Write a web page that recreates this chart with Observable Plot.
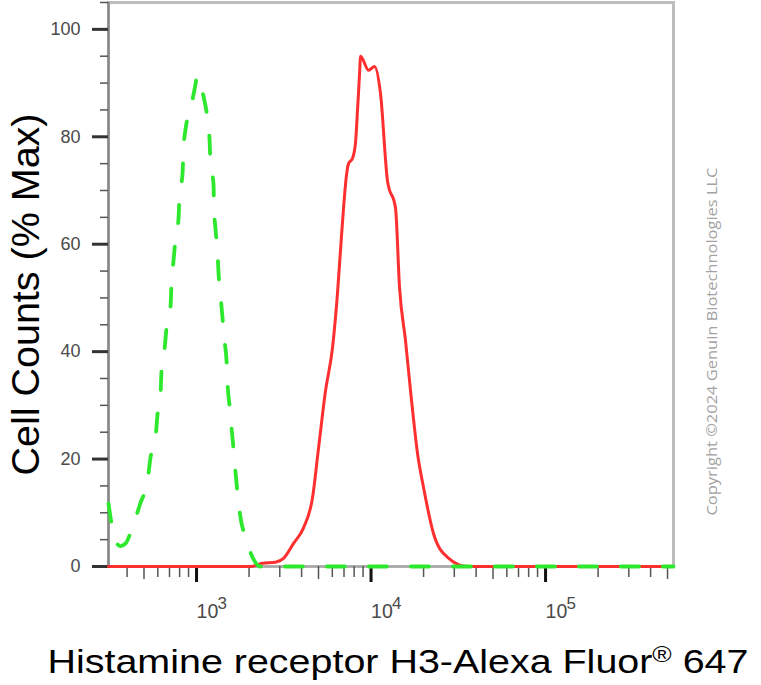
<!DOCTYPE html>
<html>
<head>
<meta charset="utf-8">
<script src="https://cdn.jsdelivr.net/npm/d3@7"></script>
<script src="https://cdn.jsdelivr.net/npm/@observablehq/plot@0.6"></script>
<style>
  html, body { margin: 0; padding: 0; background: #fff; }
  svg { display: block; }
</style>
</head>
<body>
<div id="chart"></div>
<script>
// ---- data ----
const xDomain = [313, 541000];
const yDomain = [0, 105];

// Red (solid) histogram: stained sample
const redX = [313, 2039, 2388, 2836, 3150, 3597, 4103, 4620, 5000, 5484, 6013, 6427, 6687, 6955, 7240, 7430, 7834, 8153, 8367, 8590, 8710, 9676, 10470, 11335, 12435, 13815, 14560, 15765, 16842, 18475, 19992, 22815, 27444, 35730, 541000];
const redY = [0, 0, 0.6, 0.8, 1.5, 4.3, 7.2, 12.8, 22, 32.7, 40.7, 51, 59, 66.7, 73, 75, 76, 79, 85, 91.6, 95, 92.4, 93.1, 88, 71.7, 66.7, 52, 42, 32.7, 21, 14.7, 6.1, 1.7, 0, 0];

// Green (dashed) histogram: control
const greenX = [313, 343, 367, 392, 436, 478, 524, 545, 582, 598, 622, 630, 656, 673, 710, 719, 738, 758, 789, 799, 831, 842, 865, 924, 974, 1013, 1097, 1156, 1187, 1203, 1251, 1260, 1285, 1319, 1337, 1373, 1409, 1447, 1486, 1506, 1546, 1587, 1629, 1673, 1718, 1787, 1909, 2094, 2327, 541000];
const greenY = [11.7, 4.8, 3.8, 4.3, 8, 11.9, 16, 20.3, 24, 28.4, 32.2, 36.4, 40.5, 44.4, 48.5, 52.8, 56.9, 61, 64.9, 69.3, 73, 77.7, 81.4, 85.1, 88.8, 91.3, 87.5, 83.3, 79.6, 74.9, 71.2, 66.7, 62.8, 58.4, 54.6, 50.4, 46.3, 42, 38.3, 34, 29.9, 25.8, 21.9, 17.5, 13.6, 9.1, 5.4, 1.7, 0, 0];

// ticks & labels
const yMajor = [0, 20, 40, 60, 80, 100];
const yMinor = [5, 10, 15, 25, 30, 35, 45, 50, 55, 65, 70, 75, 85, 90, 95, 105];
const xMajor = [1000, 10000, 100000];
const xMajorBase = ["10", "10", "10"];
const xMajorExp = ["3", "4", "5"];
const xMinor = [400, 600, 700, 800, 900, 2000, 3000, 4000, 6000, 7000, 8000, 9000, 20000, 30000, 40000, 60000, 70000, 80000, 90000, 200000, 300000, 400000];
const xMinorFive = [500, 5000, 50000, 500000];

const xTitle = "Histamine receptor H3-Alexa Fluor® 647";
const yTitle = "Cell Counts (% Max)";
const credit = "Copyright ©2024 Genuin Biotechnologies LLC";

const red = redX.map((x, i) => ({x, y: redY[i]}));
const green = greenX.map((x, i) => ({x, y: greenY[i]}));

const svg = Plot.plot({
  width: 761,
  height: 685,
  marginLeft: 108,
  marginRight: 88,
  marginTop: 2,
  marginBottom: 119,
  style: {fontFamily: "'Liberation Sans', Arial, sans-serif", background: "#fff"},
  x: {type: "log", domain: xDomain},
  y: {domain: yDomain},
  marks: [
    Plot.frame({stroke: "#bdbdbd", strokeWidth: 3}),
    Plot.ruleX([xDomain[0]], {stroke: "#8a8a8a", strokeWidth: 2.5}),
    Plot.ruleY([0], {stroke: "#a8a8a8", strokeWidth: 2}),
    // y ticks
    Plot.axisY({ticks: yMinor, tickSize: 8, strokeWidth: 1.5, stroke: "#555", tickFormat: () => "", label: null}),
    Plot.axisY({ticks: yMajor, tickSize: 16, strokeWidth: 3, stroke: "#333", tickFormat: () => "", label: null}),
    Plot.axisY({ticks: yMajor, tickSize: 0, tickPadding: 28, fontSize: 18, fill: "#4a4a4a", color: "#4a4a4a", label: null}),
    // x ticks
    Plot.axisX({ticks: xMinor, tickSize: 11, strokeWidth: 1.5, stroke: "#555", tickFormat: () => "", label: null}),
    Plot.axisX({ticks: xMinorFive, tickSize: 13, strokeWidth: 1.5, stroke: "#555", tickFormat: () => "", label: null}),
    Plot.axisX({ticks: xMajor, tickSize: 16, strokeWidth: 3, stroke: "#111", tickFormat: () => "", label: null}),
    Plot.text(xMajor, {x: d => d, text: (d, i) => xMajorBase[i], frameAnchor: "bottom", textAnchor: "start", lineAnchor: "bottom", dx: 0, dy: 51, fontSize: 19.5, fill: "#4a4a4a"}),
    Plot.text(xMajor, {x: d => d, text: (d, i) => xMajorExp[i], frameAnchor: "bottom", textAnchor: "start", lineAnchor: "bottom", dx: 21, dy: 42, fontSize: 17, fill: "#4a4a4a"}),
    // data
    Plot.line(red, {x: "x", y: "y", stroke: "#ff2f2f", strokeWidth: 3, strokeLinejoin: "round", curve: "monotone-x"}),
    Plot.line(green, {x: "x", y: "y", stroke: "#2ee82e", strokeWidth: 3.8, strokeDasharray: "18,24", strokeLinecap: "round", curve: "monotone-x"}),
    // titles
    Plot.text([yTitle], {frameAnchor: "left", dx: -70, dy: 10, rotate: -90, textAnchor: "middle", lineAnchor: "bottom", fontSize: 38, fill: "#000", className: "ytitle"}),
    Plot.text([xTitle], {frameAnchor: "bottom", dx: 7, dy: 106, textAnchor: "middle", lineAnchor: "bottom", fontSize: 33, fill: "#000", className: "xtitle"}),
    Plot.text([credit], {frameAnchor: "right", dx: 43, dy: 57, rotate: -90, textAnchor: "middle", lineAnchor: "bottom", fontSize: 14.5, fill: "#a3a3a3", fontFamily: "'Open Sans', sans-serif", className: "credit"})
  ]
});

const s = d3.select(svg);
s.select("g.ytitle text").attr("textLength", 362).attr("lengthAdjust", "spacingAndGlyphs");
s.select("g.credit text").attr("textLength", 348).attr("lengthAdjust", "spacingAndGlyphs");
const xt = s.select("g.xtitle text");
const parts = xTitle.split("®");
xt.text("");
xt.append("tspan").text(parts[0]);
xt.append("tspan").attr("font-size", 22).attr("dy", -11).text("®");
xt.append("tspan").attr("dy", 11).text(parts[1]);
xt.attr("textLength", 701).attr("lengthAdjust", "spacingAndGlyphs");

document.getElementById("chart").appendChild(svg);
</script>
</body>
</html>
